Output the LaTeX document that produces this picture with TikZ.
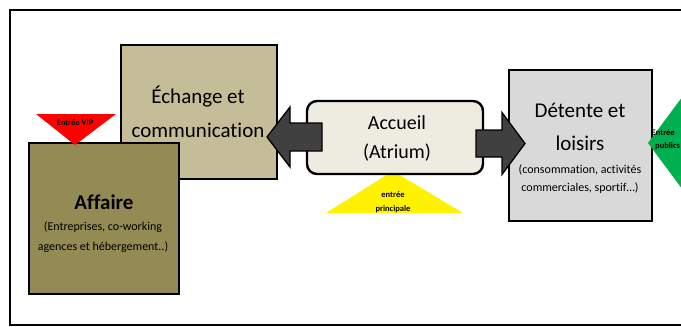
\documentclass[tikz,border=0pt]{standalone}
\usepackage{fontspec}
\setmainfont{Carlito}[Ligatures=NoCommon]
\definecolor{tanlight}{HTML}{C4BD97}
\definecolor{tandark}{HTML}{948A54}
\definecolor{accfill}{HTML}{EEECE1}
\definecolor{detfill}{HTML}{D9D9D9}
\definecolor{arrowgray}{HTML}{404040}
\definecolor{entgreen}{HTML}{00B050}
\tikzset{
  zone/.style={draw=black, line width=2.4pt, inner sep=0pt},
  blockarrow/.style={draw=black, line width=1.3pt, fill=arrowgray, line join=miter},
  big/.style={inner sep=0pt, font=\fontsize{21}{25}\selectfont},
  mid/.style={inner sep=0pt, font=\fontsize{20}{24}\selectfont},
  small/.style={inner sep=0pt, font=\fontsize{12}{14}\selectfont, text=black},
  tiny/.style={inner sep=0pt, font=\bfseries\fontsize{8.5}{10}\selectfont},
}
\begin{document}
\begin{tikzpicture}[x=1pt,y=-1pt]
\useasboundingbox (0,0) rectangle (681,327);
\clip (0,0) rectangle (681,327);
\fill[white] (0,0) rectangle (681,327);
% outer frame
\draw[line width=1.5pt] (10,10) rectangle (700,325);

% Echange box
\node[zone, fill=tanlight, minimum width=156, minimum height=134] (echange) at (199,112) {};
\node[big] (ech1) at (198,97) {Échange et};
\node[big] (ech2) at (198,130) {communication};

% Affaire box
\node[zone, fill=tandark, minimum width=150, minimum height=151] (affaire) at (104,218.5) {};
\node[big, font=\bfseries\fontsize{21}{25}\selectfont] (aff1) at (104,202) {Affaire};
\node[small] (aff2) at (103,227) {(Entreprises, co-working};
\node[small] (aff3) at (103,247) {agences et hébergement..)};

% VIP triangle
\fill[red] (36,114) coordinate (vipA) -- (116,114) coordinate (vipB) -- (75,145) coordinate (vipC) -- cycle;
\node[tiny] (vip) at (75,122.5) {Entrée VIP};

% yellow triangle
\fill[yellow] (326,213) coordinate (yA) -- (463,213) coordinate (yB) -- (393,171) coordinate (yC) -- cycle;
\node[tiny] (princ1) at (393,195) {entrée};
\node[tiny] (princ2) at (393,209) {principale};

% Accueil box
\node[zone, fill=accfill, rounded corners=10pt, minimum width=176, minimum height=73] (accueil) at (395,137.5) {};
\node[mid] (acc1) at (397,123) {Accueil};
\node[mid] (acc2) at (397,153) {(Atrium)};

% Detente box
\node[zone, fill=detfill, minimum width=143, minimum height=151] (detente) at (580.5,145.5) {};
\node[big] (det1) at (580,110) {Détente et};
\node[big] (det2) at (580,143) {loisirs};
\node[small] (det3) at (580,170) {(consommation, activités};
\node[small] (det4) at (580,188) {commerciales, sportif…)};

% green diamond
\fill[entgreen] (648,143) -- (700,73) -- (752,143) -- (700,213) -- cycle;
\node[tiny, anchor=west] (pub1) at (651.5,133) {Entrée};
\node[tiny, anchor=west] (pub2) at (655,146) {publics};

% block arrows
\draw[blockarrow] (322,123) -- (290,123) -- (290,107) -- (267,137) -- (290,167) -- (290,151) -- (322,151) -- cycle;
\draw[blockarrow] (476,130) -- (502,130) -- (502,112.5) -- (525,143.5) -- (502,174.5) -- (502,157) -- (476,157) -- cycle;
\end{tikzpicture}
\end{document}
